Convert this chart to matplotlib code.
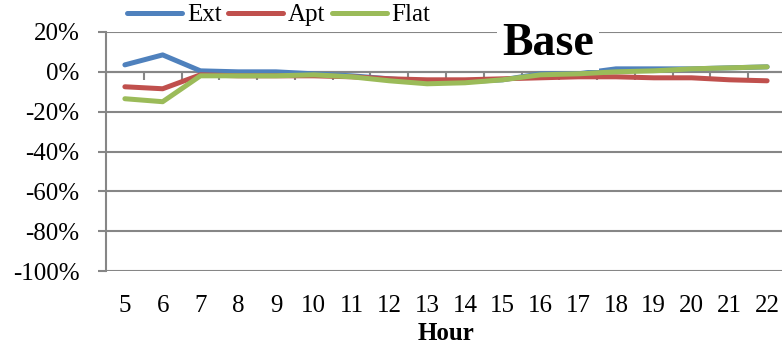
import numpy as np
import matplotlib
matplotlib.use("Agg")
import matplotlib.pyplot as plt

plt.rcParams['font.family'] = ['Liberation Serif', 'DejaVu Serif']

hours = [5, 6, 7, 8, 9, 10, 11, 12, 13, 14, 15, 16, 17, 18, 19, 20, 21, 22]
ext = [3.5, 8.5, 0.5, 0, 0, -1, -2, -3.5, -5, -5, -4, -1, -1, 1.5, 1.5, 1.5, 2, 2.5]
apt = [-7.5, -8.5, -1.5, -2, -2, -2, -2.5, -3.5, -4, -4, -3.5, -3, -2.5, -2.5, -3, -3, -4, -4.5]
flat = [-13.5, -15, -2, -2, -2, -1.5, -2.5, -4.5, -6, -5.5, -4, -1.5, -1, 0, 0.5, 1.5, 2, 2.5]
yticks = [20, 0, -20, -40, -60, -80, -100]

grey = '#868686'

fig = plt.figure(figsize=(7.82, 3.44), dpi=100)
ax = fig.add_axes([106 / 782, 73 / 344, 680 / 782, 239 / 344])

x = np.arange(len(hours))
ax.plot(x, ext, color='#4F81BD', lw=3.6, label='Ext', solid_capstyle='round', zorder=3)
ax.plot(x, apt, color='#C0504D', lw=3.6, label='Apt', solid_capstyle='round', zorder=3)
ax.plot(x, flat, color='#9BBB59', lw=3.6, label='Flat', solid_capstyle='round', zorder=4)

ax.set_xlim(-0.5, len(hours) - 0.5)
ax.set_ylim(-100, 20)
ax.set_yticks(yticks)
ax.set_yticklabels([f'{v}%' for v in yticks], fontsize=18)
ax.tick_params(axis='y', length=6, width=1.5, color=grey, pad=13)
ax.grid(axis='y', color=grey, lw=1.5, zorder=0)

for s in ['top', 'right']:
    ax.spines[s].set_visible(False)
ax.spines['left'].set_color(grey)
ax.spines['left'].set_linewidth(1.5)

# category axis crosses at zero
ax.spines['bottom'].set_position(('data', 0))
ax.spines['bottom'].set_color(grey)
ax.spines['bottom'].set_linewidth(1.5)
ax.set_xticks(np.arange(len(hours) + 1) - 0.5)
ax.set_xticklabels([])
ax.tick_params(axis='x', length=6, width=1.5, color=grey, direction='out')

sec = ax.secondary_xaxis(0.0)
sec.set_xticks(x)
sec.set_xticklabels([str(h) for h in hours], fontsize=18)
sec.tick_params(length=0, pad=17)
sec.spines['bottom'].set_visible(False)
sec.set_xlabel('Hour', fontsize=18, fontweight='bold', labelpad=4)

ax.text(0.65, 0.904, 'Base', transform=ax.transAxes, fontsize=33, fontweight='bold',
        ha='center', va='baseline', zorder=5,
        bbox=dict(boxstyle='square,pad=0.12', facecolor='white', edgecolor='none'))

ax.legend(loc='center left', bbox_to_anchor=(0.031, 1.071), ncol=3, frameon=False,
          fontsize=18, handlelength=2.2, handletextpad=0.2, columnspacing=0.25,
          borderaxespad=0, borderpad=0)

fig.savefig('out.png', dpi=100)
